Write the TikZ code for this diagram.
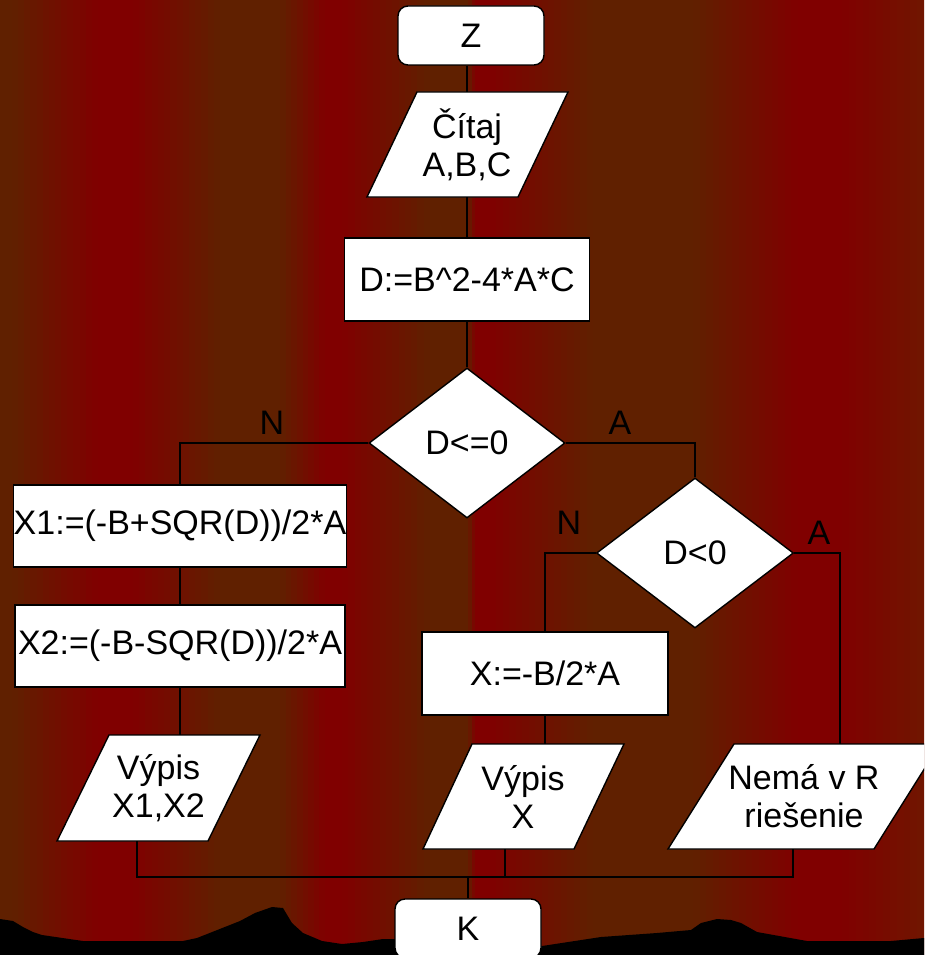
\documentclass[tikz,border=0pt]{standalone}
\usepackage{fontspec}
\setmainfont{Liberation Sans}
\usetikzlibrary{shapes.geometric,calc}
\definecolor{bgbrown}{RGB}{96,32,0}
\definecolor{bgred}{RGB}{128,0,0}
\definecolor{bgend}{RGB}{112,22,0}
\newcommand\stripegrad[5]{%
  \foreach \i in {1,...,#5}{%
    \pgfmathsetmacro\sgp{100*(\i-0.5)/#5}%
    \pgfmathsetmacro\sga{#1+(#2-#1)*(\i-1)/#5}%
    \pgfmathsetmacro\sgb{#1+(#2-#1)*\i/#5+0.6}%
    \fill[#4!\sgp!#3] (\sga,0) rectangle (\sgb,955);
  }}
\begin{document}
\begin{tikzpicture}[x=1pt,y=-1pt,
  txt/.style={font=\fontsize{34}{38}\selectfont, align=center, inner sep=0pt},
  box/.style={txt, draw=black, fill=white, line width=1.4pt},
  term/.style={box, rounded corners=10pt},
  dec/.style={box, diamond},
  io/.style={txt},
  iofill/.style={draw=black, fill=white, line width=1.4pt, line join=miter},
  conn/.style={draw=black, line width=1.4pt},
  lbl/.style={txt}]
\clip (0,0) rectangle (924,955);
% background stripes
\fill[bgbrown] (0,0) rectangle (12.5,955);
\stripegrad{12}{98}{bgbrown}{bgred}{14}
\fill[bgred] (98,0) rectangle (133.5,955);
\stripegrad{133}{220}{bgred}{bgbrown}{14}
\fill[bgbrown] (220,0) rectangle (280.5,955);
\stripegrad{280}{325}{bgbrown}{bgred}{8}
\fill[bgred] (325,0) rectangle (342.5,955);
\stripegrad{342}{430}{bgred}{bgbrown}{14}
\fill[bgbrown] (430,0) rectangle (468.5,955);
\stripegrad{468}{475}{bgbrown}{bgred}{2}
\fill[bgred] (475,0) rectangle (490.5,955);
\stripegrad{490}{593}{bgred}{bgbrown}{16}
\fill[bgbrown] (593,0) rectangle (693.5,955);
\stripegrad{693}{798}{bgbrown}{bgred}{16}
\fill[bgred] (798,0) rectangle (842.5,955);
\stripegrad{842}{924}{bgred}{bgend}{12}
% hills
\fill[black] (0,919) -- (13,921) -- (23,927) -- (33,932) -- (42,935) -- (83,941) -- (183,941)
  -- (197,938) -- (240,921) -- (255,913) -- (272,907) -- (283,908) -- (292,923) -- (303,933)
  -- (322,941) -- (342,944) -- (363,942) -- (383,939) -- (395,939) -- (542,946) -- (601,937)
  -- (657,933) -- (691,930) -- (701,923) -- (717,919) -- (731,920) -- (741,923) -- (757,932)
  -- (807,941) -- (891,941) -- (924,938) -- (924,955) -- (0,955) -- cycle;
% parallelogram shapes
\path[iofill] (417,92) -- (568,92) -- (518,197) -- (367,197) -- cycle;
\path[iofill] (109,735) -- (260,735) -- (208,841) -- (57,841) -- cycle;
\path[iofill] (472,744) -- (624,744) -- (574,849) -- (423,849) -- cycle;
\path[iofill] (734,744) -- (940,744) -- (874,849) -- (668,849) -- cycle;
% nodes
\node[term, minimum width=146pt, minimum height=59pt] (Z) at (471,35.5) {Z};
\node[io, minimum width=151pt, minimum height=105pt] (cit) at (467,144.5) {Čítaj\\A,B,C};
\node[box, minimum width=245pt, minimum height=83pt] (D) at (467,279.5) {D:=B\textasciicircum 2-4*A*C};
\node[dec, minimum width=196pt, minimum height=150pt] (d1) at (467,443) {D<=0};
\node[box, minimum width=330pt, minimum height=82pt] (X1) at (180,526) {X1:=(-B+SQR(D))/2*A};
\node[box, minimum width=330pt, minimum height=82pt] (X2) at (180,646) {X2:=(-B-SQR(D))/2*A};
\node[io, minimum width=151pt, minimum height=106pt] (vx1) at (158.5,788) {Výpis\\X1,X2};
\node[dec, minimum width=197pt, minimum height=150pt] (d2) at (695,553) {D<0};
\node[box, minimum width=246pt, minimum height=83pt] (Xb) at (545,673.5) {X:=-B/2*A};
\node[io, minimum width=151pt, minimum height=105pt] (vx) at (523,796.5) {Výpis\\X};
\node[io, minimum width=272pt, minimum height=105pt] (nr) at (804,796.5) {Nemá v R\\riešenie};
\node[term, minimum width=146pt, minimum height=59pt] (K) at (468,928.5) {K};
% labels
\node[lbl] (n1) at (272,423) {N};
\node[lbl] (a1) at (620,423) {A};
\node[lbl] (n2) at (569,523) {N};
\node[lbl] (a2) at (819,533) {A};
% coordinates
\coordinate (nrin) at (840,744);
\coordinate (j1) at (137,877);
\coordinate (j2) at (505,877);
\coordinate (j3) at (793,877);
% connectors
\draw[conn] (cit.north |- Z.south) -- (cit.north);
\draw[conn] (cit.south) -- (D.north);
\draw[conn] (D.south) -- (d1.north);
\draw[conn] (d1.west) -| (X1.north);
\draw[conn] (d1.east) -| (d2.north);
\draw[conn] (X1.south) -- (X2.north);
\draw[conn] (X2.south) -- (X2.south |- vx1.north);
\draw[conn] (d2.west) -| (Xb.north);
\draw[conn] (d2.east) -| (nrin);
\draw[conn] (Xb.south) -- (Xb.south |- vx.north);
\draw[conn] (j1 |- vx1.south) -- (j1) -- (j3) -- (j3 |- nr.south);
\draw[conn] (j2 |- vx.south) -- (j2);
\draw[conn] (K.north) -- (K.north |- j1);
\end{tikzpicture}
\end{document}
